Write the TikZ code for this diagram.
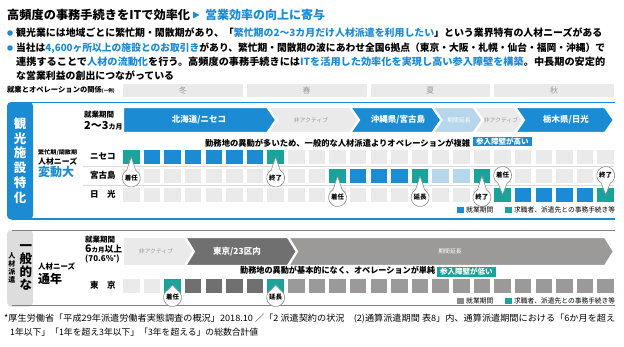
\documentclass[tikz,border=0pt]{standalone}
\usepackage{fontspec}
\setmainfont{Noto Sans CJK JP}
\usepackage{graphicx}
\definecolor{colB}{HTML}{1B8BD4}
\definecolor{colT}{HTML}{1AA39A}
\definecolor{colG}{HTML}{EAEAEA}
\definecolor{colL}{HTML}{B6D6EC}
\definecolor{colD}{HTML}{707070}
\definecolor{colM}{HTML}{9C9999}
\definecolor{tabG}{HTML}{DDDDDD}
\definecolor{txG}{HTML}{9A9A9A}
\newcommand\fitw[2]{\resizebox{#1}{\height}{#2}}
\newcommand\fs[1]{\fontsize{#1}{#1}\selectfont}
\newcommand\chevFlat[6]{\filldraw[chev, fill=#6] (#1,#3) -- (#2,#3) -- (#2+9,#4) -- (#2,#5) -- (#1,#5) -- cycle;}
\newcommand\chevNotch[6]{\filldraw[chev, fill=#6] (#1,#3) -- (#2,#3) -- (#2+9,#4) -- (#2,#5) -- (#1,#5) -- (#1+9,#4) -- cycle;}
\newcommand\bubble[6]{%
  \filldraw[bub] (#2,#3) ++(#5+30:9pt) arc[start angle=#5+30, end angle=#5+330, radius=9pt] -- (#2,#4) -- cycle;
  \node[bubtxt] (#1) at (#2,#3) {#6};}
\begin{document}
\begin{tikzpicture}[x=1pt,y=-1pt,
  txt/.style={inner sep=0pt, anchor=west},
  ctr/.style={inner sep=0pt},
  bub/.style={fill=white, draw=black!45, line width=0.6pt},
  bubtxt/.style={inner sep=0pt, font=\fs{6.5}\bfseries},
  chev/.style={draw=white, line width=2.2pt, line join=miter},
  phase/.style={inner sep=0pt, text=white, font=\fs{8.5}\bfseries},
  tiny/.style={inner sep=0pt, font=\fs{5.8}},
  badge/.style={anchor=west, text=white, font=\fs{7.5}\bfseries, inner xsep=3pt, inner ysep=1.2pt},
]
\useasboundingbox[fill=white] (0,0) rectangle (624,346);

% ---- title
\node[txt, font=\fs{12}\bfseries] (t1) at (7,15) {\fitw{183pt}{高頻度の事務手続きをITで効率化}};
\fill[colB] (193,11.5) -- (199.5,15) -- (193,18.5) -- cycle;
\node[txt, font=\fs{12}\bfseries, text=colB] (t2) at (205,15) {\fitw{120pt}{営業効率の向上に寄与}};

% ---- bullets
\fill[colB] (10,33) circle (2.8);
\node[txt, font=\fs{9.9}\bfseries] (b1) at (16,33) {\fitw{586pt}{観光業には地域ごとに繁忙期・閑散期があり、「\textcolor{colB}{繁忙期の2〜3カ月だけ人材派遣を利用したい}」という業界特有の人材ニーズがある}};
\fill[colB] (10,48) circle (2.8);
\node[txt, font=\fs{9.9}\bfseries] (b2) at (16,48) {\fitw{589pt}{当社は\textcolor{colB}{4,600ヶ所以上の施設とのお取引き}があり、繁忙期・閑散期の波にあわせ全国6拠点（東京・大阪・札幌・仙台・福岡・沖縄）で}};
\node[txt, font=\fs{9.9}\bfseries] (b3) at (16,62) {\fitw{589pt}{連携することで\textcolor{colB}{人材の流動化}を行う。高頻度の事務手続きには\textcolor{colB}{ITを活用した効率化を実現し高い参入障壁を構築}。中長期の安定的}};
\node[txt, font=\fs{9.9}\bfseries] (b4) at (16,76) {な営業利益の創出につながっている};

% ---- relation label and seasons
\node[txt, font=\fs{7.3}\bfseries] (rel) at (7,90) {就業とオペレーションの関係{\fs{4.5}(一例)}};
\foreach \s [count=\i from 0] in {冬,春,夏,秋} {
  \fill[colG] ({123+123.78*\i},84) rectangle ++(119.8,13);
  \node[ctr, font=\fs{8}, text=txG] (season\i) at ({123+123.78*\i+59.9},90.5) {\s};
}

% ---- box 1
\fill[colB, rounded corners=4pt] (7,102) rectangle (33,219.5);
\draw[colB, line width=1.4pt] (12,102.7) -- (615,102.7);
\draw[colB, line width=1.4pt] (12,218.8) -- (615,218.8);
\node[ctr, text=white, font=\fontsize{12.5}{14.8}\selectfont\bfseries, align=center] (tab1) at (20,160.5) {観\\光\\施\\設\\特\\化};

\node[txt, font=\fs{5.6}\bfseries] (hk) at (38,152.5) {\fitw{39pt}{繁忙期/閑散期}};
\node[txt, font=\fs{7.6}\bfseries] (jn1) at (38,161.5) {\fitw{39pt}{人材ニーズ}};
\node[txt, font=\fs{12}\bfseries, text=colB] (hd) at (38,171.5) {変動大};
\node[txt, font=\fs{7.5}\bfseries] (sk1) at (84,115) {就業期間};
\node[txt, font=\bfseries] (sp1) at (84,125.5) {{\fs{11}2〜3}{\fs{7}カ月}};

\node[txt, font=\fs{8.5}\bfseries] (r1) at (90,156.75) {ニセコ};
\node[txt, font=\fs{8.5}\bfseries] (r2) at (90,175.75) {宮古島};
\node[txt, font=\fs{8.5}\bfseries] (r3) at (90,194.75) {日　光};
\draw[black!15, line width=0.7pt] (83,166.2) -- (614,166.2);
\draw[black!15, line width=0.7pt] (83,185.5) -- (614,185.5);

% phases top
\chevFlat{123}{267.4}{107}{120}{133}{colB}
\chevNotch{267.4}{350}{107}{120}{133}{colG}
\chevNotch{350}{432.5}{107}{120}{133}{colB}
\chevNotch{432.5}{473.7}{107}{120}{133}{colL}
\chevNotch{473.7}{515}{107}{120}{133}{colG}
\chevNotch{515}{605}{107}{120}{133}{colB}
\node[phase] (p1) at (199,120) {北海道/ニセコ};
\node[tiny, text=txG] (p2) at (311,120) {非アクティブ};
\node[phase] (p3) at (398,120) {沖縄県/宮古島};
\node[tiny, text=white] (p4) at (459,120) {期間延長};
\node[tiny, text=txG] (p5) at (501,120) {非アクティブ};
\node[phase] (p6) at (566,120) {栃木県/日光};

\node[txt, font=\fs{8.3}\bfseries] (d1) at (205,143) {\fitw{265pt}{勤務地の異動が多いため、一般的な人材派遣よりオペレーションが複雑}};
\node[badge, fill=colB] (k1) at (473,141.5) {参入障壁が高い};

% squares top
\foreach \c [count=\i from 0] in {T,B,B,B,B,B,B,T,G,G,G,G,G,G,G,G,G,G,G,G,G,G,G,G}
  \fill[fill=col\c] ({123+20.63*\i},150) rectangle ++(16.5,13.5);
\foreach \c [count=\i from 0] in {G,G,G,G,G,G,G,G,G,G,T,B,B,B,T,L,L,T,G,G,G,G,G,G}
  \fill[fill=col\c] ({123+20.63*\i},169) rectangle ++(16.5,13.5);
\foreach \c [count=\i from 0] in {G,G,G,G,G,G,G,G,G,G,G,G,G,G,G,G,G,G,T,B,B,B,B,T}
  \fill[fill=col\c] ({123+20.63*\i},188) rectangle ++(16.5,13.5);

\bubble{u1}{131.25}{178}{157}{90}{着任}
\bubble{u2}{275.66}{178}{157}{90}{終了}
\bubble{u3}{337.55}{197.5}{176}{90}{着任}
\bubble{u4}{420.07}{197.5}{176}{90}{延長}
\bubble{u5}{481.96}{197.5}{176}{90}{終了}
\bubble{u6}{502.59}{175.5}{194.5}{270}{着任}
\bubble{u7}{605.74}{175.5}{194.5}{270}{終了}

\fill[colB] (457,206.5) rectangle ++(6.5,6.5);
\node[txt, font=\fs{6.8}] (lg1) at (466,209.75) {就業期間};
\fill[colT] (505,206.5) rectangle ++(6.5,6.5);
\node[txt, font=\fs{6.8}] (lg2) at (514,209.75) {\fitw{101pt}{求職者、派遣先との事務手続き等}};

% ---- box 2
\fill[tabG, rounded corners=4pt] (7,230) rectangle (33,306.5);
\draw[black!50, line width=1pt] (12,230.6) -- (615,230.6);
\draw[black!50, line width=1pt] (12,305.9) -- (615,305.9);
\node[ctr, font=\fontsize{7}{8}\selectfont\bfseries, align=center] (tab2a) at (12,267.5) {人\\材\\派\\遣};
\node[ctr, font=\fontsize{12.5}{13.3}\selectfont\bfseries, align=center] (tab2b) at (26,267.5) {一\\般\\的\\な};

\node[txt, font=\fs{7.6}\bfseries] (jn2) at (38,267) {\fitw{37pt}{人材ニーズ}};
\node[txt, font=\fs{12}\bfseries] (tn) at (38,279) {通年};
\node[txt, font=\fs{7.5}\bfseries] (sk2) at (85,239.5) {就業期間};
\node[txt, font=\bfseries] (sp2) at (85,249.5) {{\fs{10.5}6}{\fs{6.5}カ月}{\fs{8.8}以上}};
\node[txt, font=\fs{8}\bfseries] (pc) at (85,258.5) {(70.6\%{\fs{5}\raisebox{2pt}{*}})};
\node[txt, font=\fs{8.5}\bfseries] (r4) at (90,285.75) {東　京};

\chevFlat{123}{184.9}{237}{251.5}{266}{colG}
\chevNotch{184.9}{288}{237}{251.5}{266}{colD}
\chevNotch{288}{605}{237}{251.5}{266}{colM}
\node[tiny, text=txG] (q1) at (156,251.5) {非アクティブ};
\node[phase] (q2) at (237,251.5) {東京/23区内};
\node[tiny, text=white] (q3) at (450,251.5) {期間延長};

\node[txt, font=\fs{8.3}\bfseries] (d2) at (240,270) {\fitw{195pt}{勤務地の異動が基本的になく、オペレーションが単純}};
\node[badge, fill=colT] (k2) at (437,272) {参入障壁が低い};

\foreach \c [count=\i from 0] in {G,G,T,D,D,D,D,T,M,M,M,M,M,M,M,M,M,M,M,M,M,M,M,M}
  \fill[fill=col\c] ({123+20.63*\i},279) rectangle ++(16.5,13.5);

\bubble{v1}{172.51}{297.5}{285}{90}{着任}
\bubble{v2}{275.66}{297.5}{285}{90}{延長}

\fill[black!45] (457,297.5) rectangle ++(6.5,6.5);
\node[txt, font=\fs{6.8}] (lg3) at (466,300.75) {就業期間};
\fill[colT] (505,297.5) rectangle ++(6.5,6.5);
\node[txt, font=\fs{6.8}] (lg4) at (514,300.75) {\fitw{101pt}{求職者、派遣先との事務手続き等}};

% ---- footnote
\node[txt, font=\fs{8.8}] (fn1) at (4,319) {\fitw{611pt}{*厚生労働省「平成29年派遣労働者実態調査の概況」2018.10 ／「2 派遣契約の状況　(2)通算派遣期間 表8」内、通算派遣期間における「6か月を超え}};
\node[txt, font=\fs{8.8}] (fn2) at (10,332) {1年以下」「1年を超え3年以下」「3年を超える」の総数合計値};
\end{tikzpicture}
\end{document}
